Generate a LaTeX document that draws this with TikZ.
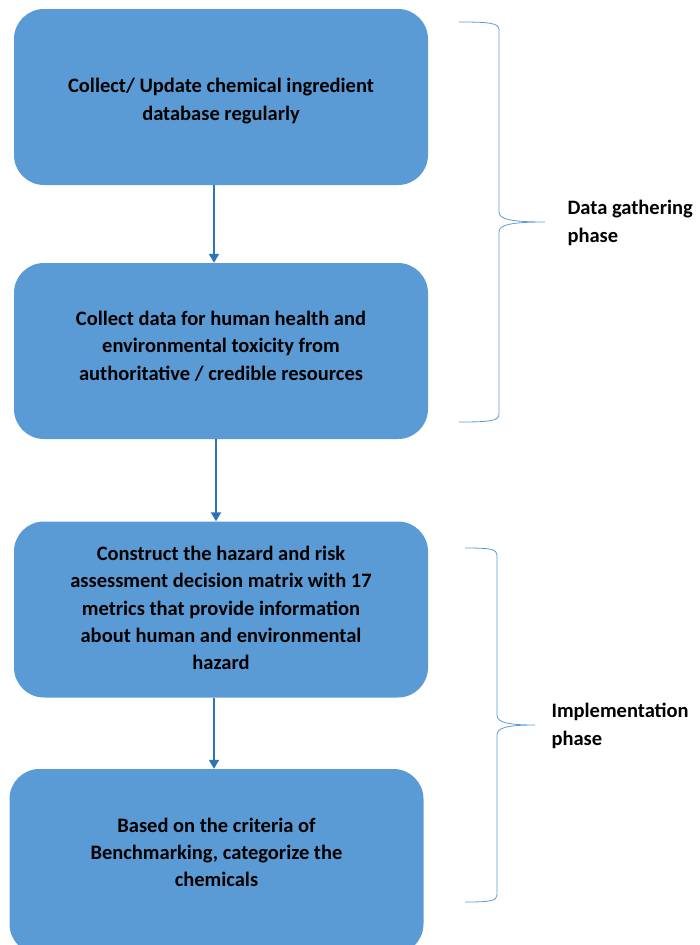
\documentclass[tikz,border=0pt]{standalone}
\usepackage{fontspec}
\setmainfont{Carlito}
\usetikzlibrary{arrows.meta}
\definecolor{boxblue}{HTML}{5B9BD5}
\definecolor{arrowblue}{HTML}{2E75B6}

\begin{document}
\begin{tikzpicture}[x=1pt,y=-1pt,
    stepbox/.style={rectangle, rounded corners=30pt, fill=boxblue, draw=none,
        minimum width=414pt, minimum height=176pt},
    steptext/.style={align=center, font=\bfseries\fontsize{20.5}{27.3}\selectfont},
    flow/.style={draw=arrowblue, line width=1.8pt, -{Triangle[length=9pt,width=10pt]}},
    curly/.style={draw=boxblue, line width=0.8pt},
    phase/.style={anchor=west, align=left, font=\bfseries\fontsize{20.5}{28}\selectfont}]
    \useasboundingbox (0,0) rectangle (699,945);
    \node[stepbox] (collect) at (221,97) {};
    \node[stepbox] (toxdata) at (221,351) {};
    \node[stepbox] (matrix) at (221,609.5) {};
    \node[stepbox, minimum height=185pt] (bench) at (216.5,861.5) {};
    \node[steptext] (collecttxt) at ([yshift=-4pt]collect.center) {Collect/ Update chemical ingredient\\database regularly};
    \node[steptext] (toxdatatxt) at ([yshift=5pt]toxdata.center) {Collect data for human health and\\environmental toxicity from\\authoritative / credible resources};
    \node[steptext] (matrixtxt) at ([yshift=1.5pt]matrix.center) {Construct the hazard and risk\\assessment decision matrix with 17\\metrics that provide information\\about human and environmental\\hazard};
    \node[steptext] (benchtxt) at ([yshift=9pt]bench.center) {Based on the criteria of\\Benchmarking, categorize the\\chemicals};
    \draw[flow] ([xshift=-7pt]collect.south) -- ([xshift=-7pt]toxdata.north);
    \draw[flow] ([xshift=-5pt]toxdata.south) -- ([xshift=-5pt]matrix.north);
    \draw[flow] ([xshift=-7pt]matrix.south) -- ([xshift=-2.5pt]bench.north);
    % braces
    \coordinate (gtip) at (545,222);
    \coordinate (itip) at (535,725);
    \draw[curly] (459,22) .. controls (490,22) and (499,23) .. (499,30) -- (499,212)
        .. controls (499,219) and (510,222) .. (gtip)
        .. controls (510,222) and (499,225) .. (499,232) -- (499,414)
        .. controls (499,421) and (490,422) .. (459,422);
    \draw[curly] (465,548) .. controls (490,548) and (497,549) .. (497,555) -- (497,715)
        .. controls (497,722) and (506,725) .. (itip)
        .. controls (506,725) and (497,728) .. (497,735) -- (497,895)
        .. controls (497,901) and (490,902) .. (465,902);
    \node[phase] (gather) at ([xshift=19pt,yshift=-1pt]gtip) {Data gathering\\phase};
    \node[phase] (implement) at ([xshift=13pt,yshift=-1pt]itip) {Implementation\\phase};
\end{tikzpicture}
\end{document}
